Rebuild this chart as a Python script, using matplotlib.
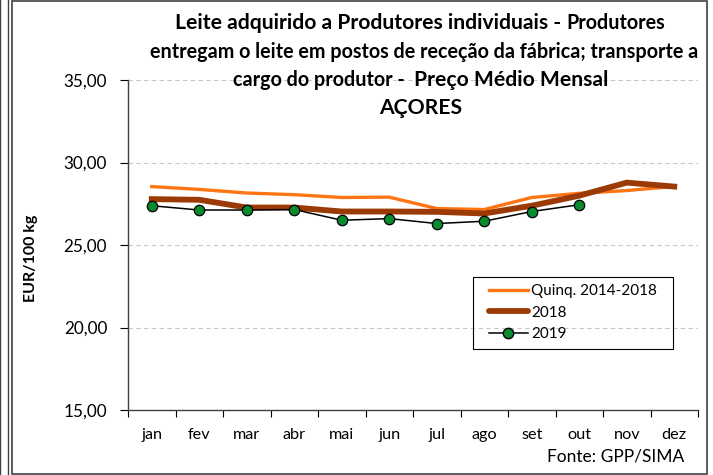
import numpy as np
import matplotlib.pyplot as plt
from matplotlib.patches import Rectangle
from matplotlib.lines import Line2D

# Monthly average price, EUR/100 kg
months = ["jan", "fev", "mar", "abr", "mai", "jun", "jul", "ago", "set", "out", "nov", "dez"]
quinq = [28.54, 28.37, 28.15, 28.05, 27.88, 27.90, 27.21, 27.15, 27.88, 28.13, 28.30, 28.55]
y2018 = [27.78, 27.74, 27.27, 27.27, 27.03, 27.03, 27.01, 26.91, 27.38, 27.99, 28.78, 28.54]
y2019 = [27.38, 27.12, 27.12, 27.15, 26.50, 26.60, 26.30, 26.44, 27.03, 27.44]
yTicks = [15, 20, 25, 30, 35]
seriesNames = ["Quinq. 2014-2018", "2018", "2019"]

plt.rcParams['font.family'] = ['Lato', 'DejaVu Sans']

W, H = 713, 475
fig = plt.figure(figsize=(W / 100, H / 100), dpi=100)
ax = fig.add_axes([128 / W, 1 - 410 / H, 570 / W, 330 / H])

quinqColor = "#ff7514"
color2018 = "#9c3a06"
markerColor = "#0a8a2e"

x = np.arange(len(months))
ax.plot(x, quinq, color=quinqColor, linewidth=2.4, zorder=3)
ax.plot(x, y2018, color=color2018, linewidth=4.2, zorder=3)
ax.plot(x[:len(y2019)], y2019, color="black", linewidth=1.1, marker="o", markersize=7.5,
        markerfacecolor=markerColor, markeredgecolor="black", markeredgewidth=0.9, zorder=4)

ax.set_xlim(-0.5, len(months) - 0.5)
ax.set_ylim(15, 35)
ax.set_yticks(yTicks)
ax.set_yticklabels([("%.2f" % v).replace(".", ",") for v in yTicks])
ax.set_xticks(x)
ax.set_xticklabels(months)
ax.set_xticks(np.arange(-0.5, len(months)), minor=True)
ax.tick_params(axis="x", which="major", length=0, pad=13, labelsize=11.7)
ax.tick_params(axis="x", which="minor", length=5, direction="out", width=0.8)
ax.tick_params(axis="y", length=6, direction="out", width=0.8, labelsize=12.3, pad=9)

for v in yTicks[1:]:
    ax.axhline(v, color="#c8c8c8", linewidth=0.8, linestyle=(0, (4, 3)), zorder=1)

for side in ["top", "right"]:
    ax.spines[side].set_visible(False)
for side in ["left", "bottom"]:
    ax.spines[side].set_color("#404040")
    ax.spines[side].set_linewidth(1.0)

ax.set_ylabel("EUR/100 kg", fontsize=11.5, fontweight="bold")
ax.yaxis.set_label_coords(-(128 - 38) / 570, (410 - 258) / 330)

# Legend (box drawn separately to get Excel-like padding)
handles = [Line2D([0], [0], color=quinqColor, linewidth=2.4),
           Line2D([0], [0], color=color2018, linewidth=4.2, solid_capstyle="round"),
           Line2D([0], [0], color="black", linewidth=1.1, marker="o", markersize=7.5,
                  markerfacecolor=markerColor, markeredgecolor="black")]
leg = ax.legend(handles, seriesNames, loc="upper left",
                bbox_to_anchor=((489 - 128) / 570, (410 - 284) / 330),
                frameon=False, fontsize=11, handlelength=2.55, handletextpad=0.2,
                labelspacing=0.5, borderpad=0, borderaxespad=0)
fig.patches.append(Rectangle((473 / W, 1 - 349 / H), 200 / W, 72 / H, transform=fig.transFigure,
                             fill=False, edgecolor="black", linewidth=0.8, zorder=5))

# Title, mixed font sizes like the original
bigSize = 15.2
smallSize = 14.2
titleLines = [
    (420, 29, [("Leite adquirido a Produtores individuais - ", bigSize), ("Produtores", smallSize)]),
    (424, 58, [("entregam o leite em postos de receção da fábrica; transporte a", smallSize)]),
    (421, 86, [("cargo do produtor -  ", smallSize), ("Preço Médio Mensal", bigSize)]),
    (421, 114, [("AÇORES", bigSize)]),
]
renderer = fig.canvas.get_renderer()
for cx, by, pieces in titleLines:
    texts = []
    for s, size in pieces:
        texts.append(fig.text(0, 1 - by / H, s, ha="left", va="baseline",
                              fontsize=size, fontweight="bold"))
    widths = [t.get_window_extent(renderer).width for t in texts]
    left = cx - sum(widths) / 2
    for t, w in zip(texts, widths):
        t.set_x(left / W)
        left += w

fig.text(684 / W, 1 - 457 / H, "Fonte: GPP/SIMA", ha="right", va="center", fontsize=12.5)

# Chart frame
fig.patches.append(Rectangle((12 / W, 1 / H), (707 - 12) / W, 1 - 2 / H, transform=fig.transFigure,
                             fill=False, edgecolor="#404040", linewidth=1.2))
fig.patches.append(Rectangle((0, -0.01), 8 / W, 1.02, transform=fig.transFigure,
                             fill=False, edgecolor="#404040", linewidth=1.0))

fig.savefig("out.png", dpi=100)
